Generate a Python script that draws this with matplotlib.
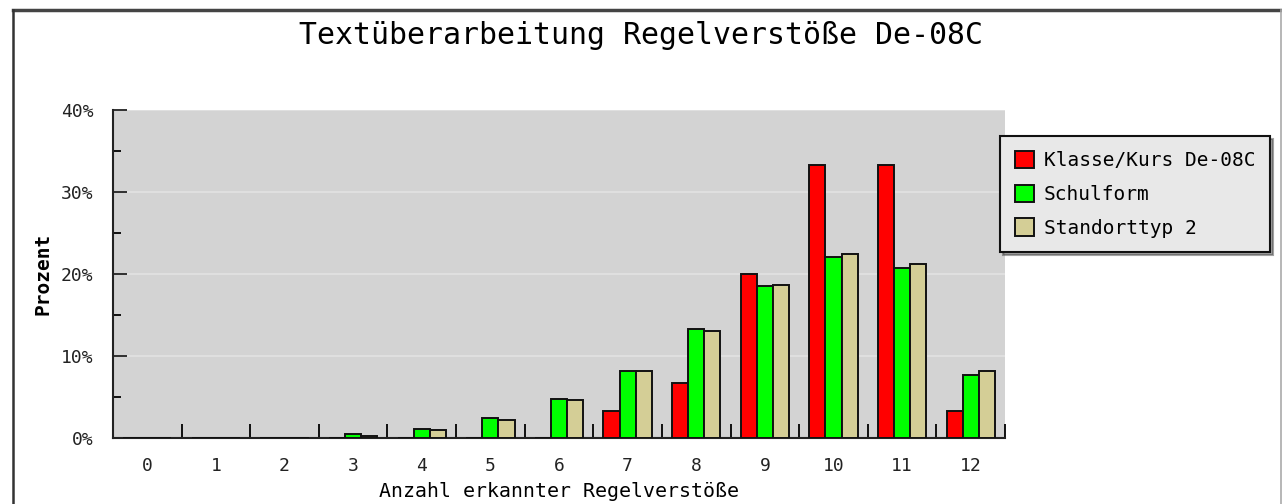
import numpy as np
import matplotlib
matplotlib.use('Agg')
from matplotlib import pyplot as plt
from matplotlib.lines import Line2D

plt.rcParams['font.family'] = ['DejaVu Sans Mono']

# data (percent)
categories = [str(i) for i in range(13)]
klasse = [0, 0, 0, 0, 0, 0, 0, 3.33, 6.67, 20.0, 33.33, 33.33, 3.33]
schulform = [0, 0, 0, 0.5, 1.1, 2.4, 4.8, 8.2, 13.3, 18.5, 22.1, 20.7, 7.7]
standort = [0, 0, 0, 0.2, 1.0, 2.2, 4.6, 8.2, 13.1, 18.7, 22.4, 21.2, 8.2]
series_names = ['Klasse/Kurs De-08C', 'Schulform', 'Standorttyp 2']
colors = ['#ff0000', '#00ff00', '#d4ce96']

fig = plt.figure(figsize=(12.82, 5.04), dpi=100)
ax = fig.add_axes([113 / 1282, 66 / 504, 892 / 1282, 328 / 504])
ax.set_facecolor('#d3d3d3')

x = np.arange(len(categories))
w = 0.235
for i, (vals, name, col) in enumerate(zip([klasse, schulform, standort], series_names, colors)):
    ax.bar(x + (i - 1) * w, vals, width=w, color=col, edgecolor='#111111',
           linewidth=1.4, label=name, zorder=3)

ax.set_xlim(-0.5, 12.5)
ax.set_ylim(0, 40)

# y axis
ax.set_yticks([0, 10, 20, 30, 40])
ax.set_yticklabels(['0%', '10%', '20%', '30%', '40%'])
ax.set_yticks([5, 15, 25, 35], minor=True)
ax.tick_params(axis='y', which='major', direction='in', length=10, width=1.3,
               pad=14, labelsize=13, colors='#222222')
ax.tick_params(axis='y', which='minor', direction='in', length=6, width=1.3)

# x axis: labels at centres, tick marks between groups
ax.set_xticks(x)
ax.set_xticklabels(categories)
ax.set_xticks(np.arange(0.5, 13, 1), minor=True)
ax.tick_params(axis='x', which='major', length=0, pad=14, labelsize=13, colors='#222222')
ax.tick_params(axis='x', which='minor', direction='in', length=10, width=1.3)

ax.grid(axis='y', which='major', color='#e2e2e2', linewidth=1.2, zorder=0)
ax.set_axisbelow(True)

for s in ['top', 'right']:
    ax.spines[s].set_visible(False)
for s in ['left', 'bottom']:
    ax.spines[s].set_linewidth(1.5)
    ax.spines[s].set_color('#222222')

ax.set_xlabel('Anzahl erkannter Regelverstöße', fontsize=14.3, labelpad=5)
ax.set_ylabel('Prozent', fontsize=14, fontweight='bold', labelpad=6)

fig.text(0.5, 1 - 35 / 504, 'Textüberarbeitung Regelverstöße De-08C',
         ha='center', va='center', fontsize=21.5)

leg = fig.legend(loc='upper left', bbox_to_anchor=(1000 / 1282, 1 - 136 / 504),
                 borderaxespad=0, fontsize=14, handlelength=1.0, handleheight=1.0,
                 handletextpad=0.5, labelspacing=0.75, borderpad=0.75, fancybox=False,
                 shadow=True, framealpha=1)
leg.get_frame().set_facecolor('#e8e8e8')
leg.get_frame().set_edgecolor('#111111')
leg.get_frame().set_linewidth(1.5)

# outer frame of the picture
fig.add_artist(Line2D([13 / 1282, 1], [1 - 10 / 504, 1 - 10 / 504], color='#444444',
                      linewidth=2.5, transform=fig.transFigure))
fig.add_artist(Line2D([13 / 1282, 13 / 1282], [0, 1 - 10 / 504], color='#333333',
                      linewidth=1.8, transform=fig.transFigure))
fig.add_artist(Line2D([1280.5 / 1282, 1280.5 / 1282], [0, 1 - 10 / 504], color='#aaaaaa',
                      linewidth=1.2, transform=fig.transFigure))

fig.savefig('out.png', dpi=100)
